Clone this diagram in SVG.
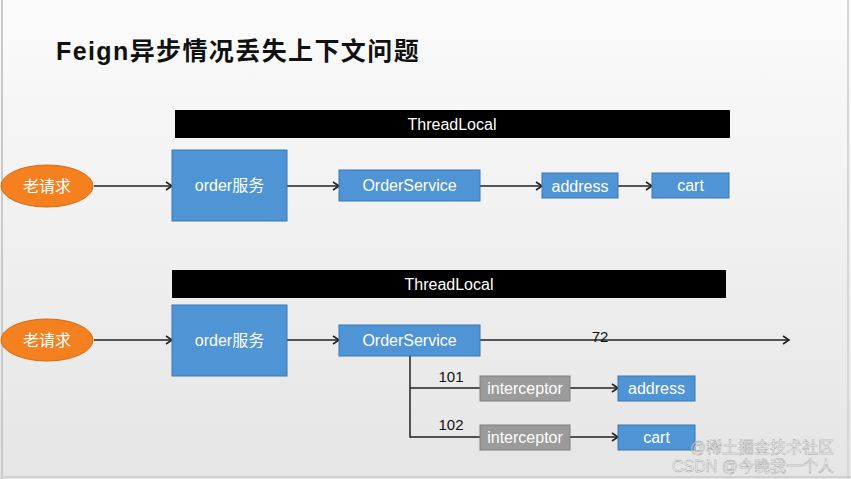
<svg xmlns="http://www.w3.org/2000/svg" width="851" height="479" viewBox="0 0 851 479">
<defs>
<linearGradient id="bg" x1="0" y1="0" x2="0" y2="1">
<stop offset="0" stop-color="#fbfbfb"/>
<stop offset="1" stop-color="#e4e5e4"/>
</linearGradient>
<marker id="arr" markerWidth="10" markerHeight="10" refX="8" refY="5" orient="auto" markerUnits="userSpaceOnUse">
<path d="M2,1 L8,5 L2,9" fill="none" stroke="#222" stroke-width="1.6"/>
</marker>
<style>
.t{font-family:"Liberation Sans","Noto Sans CJK SC",sans-serif;}
.w{fill:#fff;font-size:16px;text-anchor:middle;dominant-baseline:central;}
.k{fill:#111;font-size:15px;}
.blue{fill:#4f94d4;stroke:#3b77b3;stroke-width:1;}
.grey{fill:#9b9b9b;stroke:#7e7e7e;stroke-width:1;}
.bar{fill:#000;}
.ell{fill:#f4801f;stroke:#d76a12;stroke-width:1;}
.ln{fill:none;stroke:#222;stroke-width:1.5;}
.ar{fill:none;stroke:#222;stroke-width:1.5;marker-end:url(#arr);}
.wm{font-size:16px;text-anchor:end;fill:#fff;fill-opacity:0.6;stroke:#999;stroke-width:0.4;}
</style>
</defs>
<rect x="0" y="0" width="851" height="479" fill="url(#bg)"/>
<line x1="2" y1="0" x2="2" y2="479" stroke="#c9c9c9" stroke-width="2"/>
<line x1="848" y1="0" x2="848" y2="479" stroke="#d6d6d6" stroke-width="2"/>
<line x1="0" y1="477" x2="851" y2="477" stroke="#d0d0d0" stroke-width="2"/>

<text class="t" x="56" y="60" font-size="25" font-weight="bold" letter-spacing="1.4" fill="#111">Feign异步情况丢失上下文问题</text>

<g id="connectors">
<line class="ar" x1="94" y1="186" x2="172" y2="186"/>
<line class="ar" x1="287" y1="186" x2="339" y2="186"/>
<line class="ar" x1="480" y1="186" x2="542" y2="186"/>
<line class="ar" x1="618" y1="186" x2="652" y2="186"/>
<line class="ar" x1="94" y1="340" x2="172" y2="340"/>
<line class="ar" x1="287" y1="340" x2="339" y2="340"/>
<line class="ar" x1="480" y1="340" x2="789" y2="340"/>
<polyline class="ln" points="410,356 410,437 480,437"/>
<line class="ln" x1="410" y1="388" x2="480" y2="388"/>
<line class="ar" x1="570" y1="388" x2="618" y2="388"/>
<line class="ar" x1="570" y1="437" x2="618" y2="437"/>
<text class="t k" x="600" y="342" text-anchor="middle">72</text>
<text class="t k" x="451" y="382" text-anchor="middle">101</text>
<text class="t k" x="451" y="430" text-anchor="middle">102</text>
</g>

<g id="threadlocal1"><rect class="bar" x="175" y="110" width="555" height="28"/><text class="t w" x="452" y="124.5">ThreadLocal</text></g>
<g id="old-request1"><ellipse class="ell" cx="47" cy="186" rx="46" ry="21"/><text class="t w" x="47" y="186">老请求</text></g>
<g id="order1"><rect class="blue" x="172" y="150" width="115" height="71"/><text class="t w" x="229.5" y="185.5">order服务</text></g>
<g id="orderservice1"><rect class="blue" x="339" y="170" width="141" height="31"/><text class="t w" x="409.5" y="185.5">OrderService</text></g>
<g id="address1"><rect class="blue" x="542" y="173" width="76" height="25"/><text class="t w" x="580" y="186">address</text></g>
<g id="cart1"><rect class="blue" x="652" y="173" width="77" height="25"/><text class="t w" x="690.5" y="185.5">cart</text></g>

<g id="threadlocal2"><rect class="bar" x="172" y="270" width="554" height="28"/><text class="t w" x="449" y="284.5">ThreadLocal</text></g>
<g id="old-request2"><ellipse class="ell" cx="47" cy="340" rx="46" ry="21"/><text class="t w" x="47" y="340">老请求</text></g>
<g id="order2"><rect class="blue" x="172" y="305" width="115" height="71"/><text class="t w" x="229.5" y="340.5">order服务</text></g>
<g id="orderservice2"><rect class="blue" x="339" y="325" width="141" height="31"/><text class="t w" x="409.5" y="340.5">OrderService</text></g>
<g id="interceptor1"><rect class="grey" x="480" y="376" width="90" height="25"/><text class="t w" x="525" y="388.5">interceptor</text></g>
<g id="address2"><rect class="blue" x="618" y="376" width="77" height="25"/><text class="t w" x="656.5" y="388.5">address</text></g>
<g id="interceptor2"><rect class="grey" x="480" y="425" width="90" height="25"/><text class="t w" x="525" y="437.5">interceptor</text></g>
<g id="cart2"><rect class="blue" x="618" y="425" width="77" height="25"/><text class="t w" x="656.5" y="437.5">cart</text></g>

<text class="t wm" x="834" y="453">@稀土掘金技术社区</text>
<text class="t wm" x="834" y="472">CSDN @今晚我一个人</text>
</svg>
